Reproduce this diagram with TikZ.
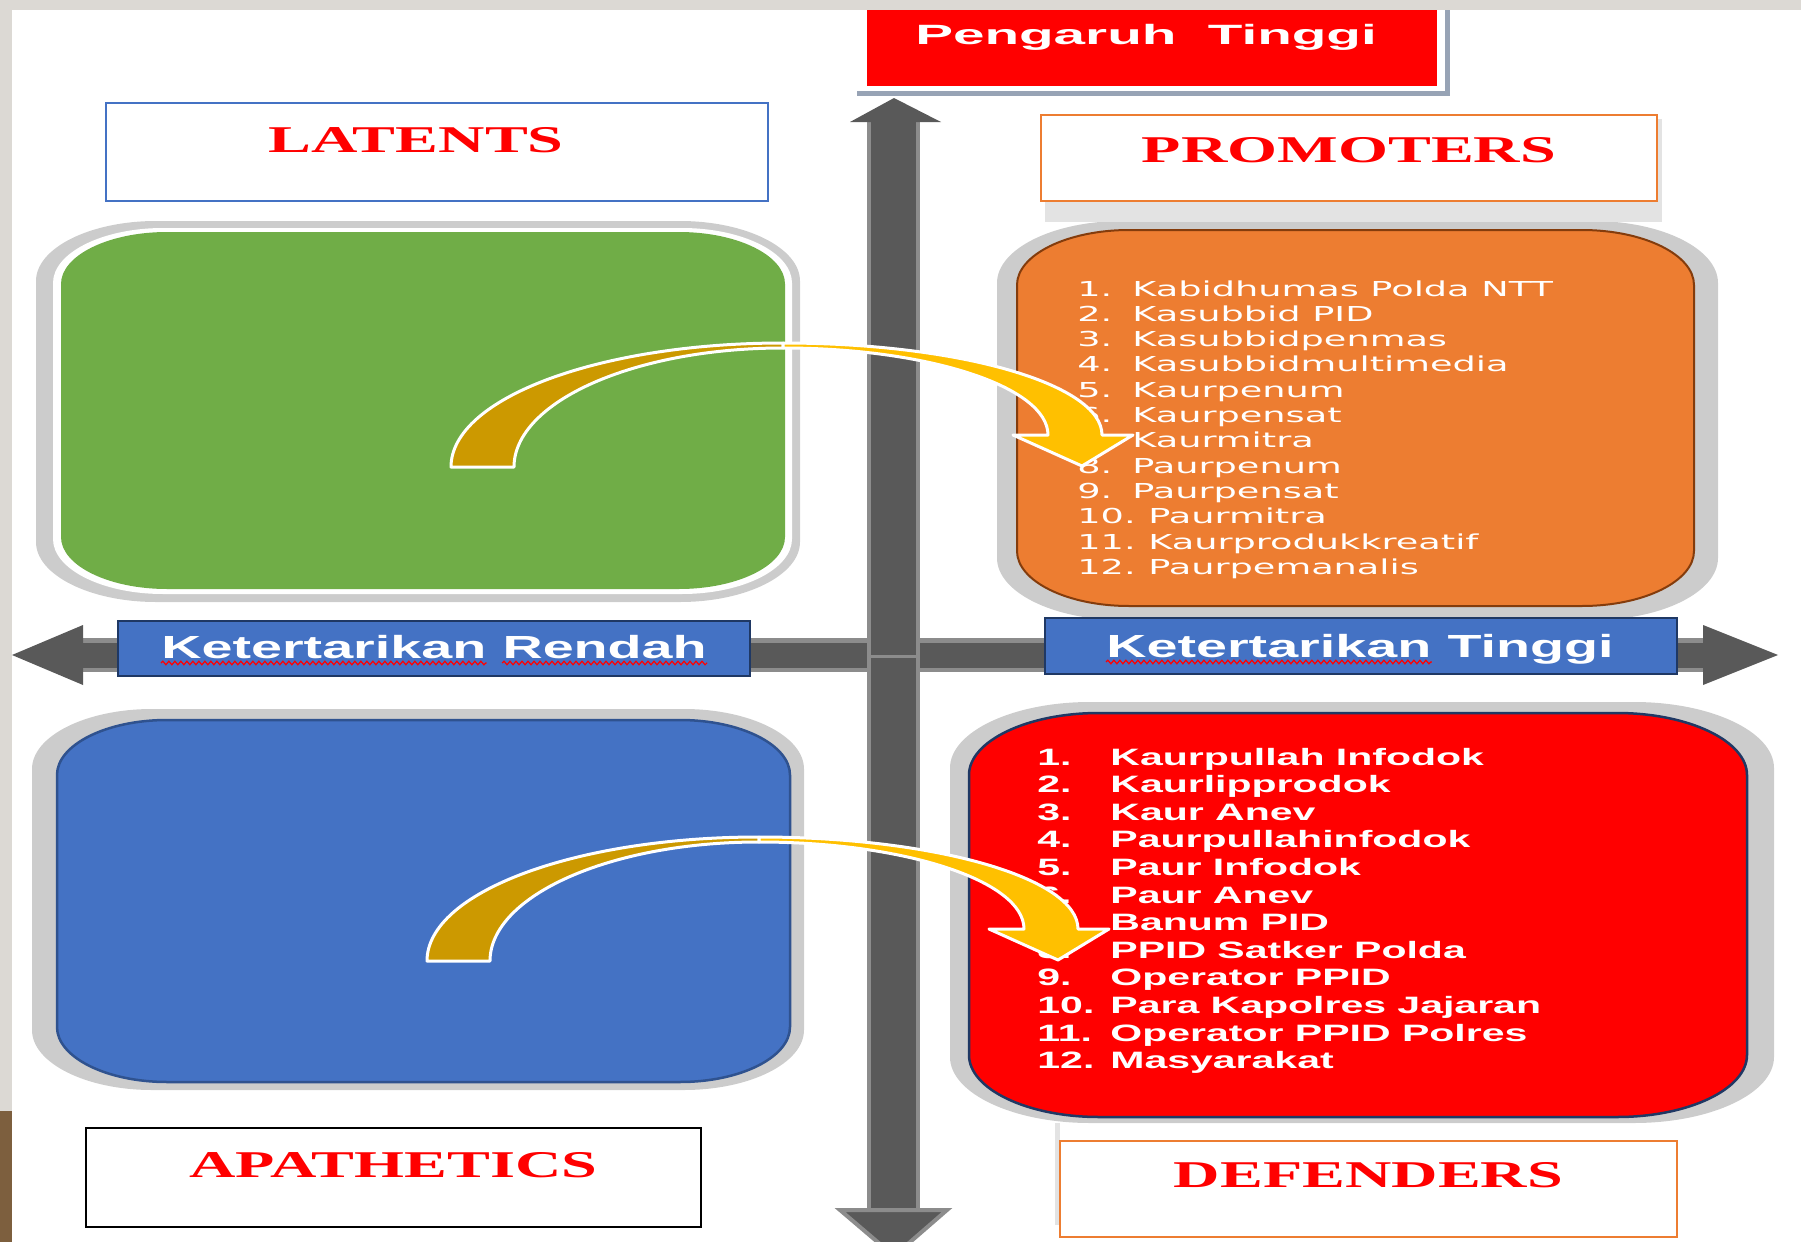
\documentclass[tikz,border=0pt]{standalone}
\usepackage{fontspec}
\usepackage{xcolor}
\usepackage{tikz}
\usetikzlibrary{positioning,decorations.pathmorphing}
\newfontfamily\tagfont{Liberation Serif}[FakeStretch=1.7]
\newfontfamily\axisfont{Liberation Sans}[FakeStretch=1.74]
\newfontfamily\topfont{Liberation Sans}[FakeStretch=2.03]
\newfontfamily\promofont{DejaVu Sans}[FakeStretch=1.78]
\newfontfamily\deffont{Liberation Sans}[FakeStretch=1.73]
\definecolor{clrGrn}{RGB}{112,173,71}
\definecolor{clrOrg}{RGB}{237,125,49}
\definecolor{clrRed}{RGB}{255,0,0}
\definecolor{clrBlu}{RGB}{68,114,196}
\definecolor{clrNavy}{RGB}{31,56,100}
\definecolor{clrBluE}{RGB}{47,82,143}
\definecolor{clrBrown}{RGB}{132,60,12}
\definecolor{clrGold}{RGB}{255,192,0}
\definecolor{clrDGold}{RGB}{204,153,0}
\definecolor{clrShaft}{RGB}{89,89,89}
\definecolor{clrShaftE}{RGB}{140,140,140}
\definecolor{clrShadow}{RGB}{204,204,204}
\definecolor{clrSlate}{RGB}{151,163,181}
\definecolor{clrFrame}{RGB}{220,217,212}
\definecolor{clrPhoto}{RGB}{125,95,62}
% rounded box with elliptic corners: x1,y1,x2,y2,rx,ry
\newcommand\softbox[6]{(#1+#5,#2) -- (#3-#5,#2)
  .. controls (#3-0.45*#5,#2) and (#3,#2+0.45*#6) .. (#3,#2+#6) -- (#3,#4-#6)
  .. controls (#3,#4-0.45*#6) and (#3-0.45*#5,#4) .. (#3-#5,#4) -- (#1+#5,#4)
  .. controls (#1+0.45*#5,#4) and (#1,#4-0.45*#6) .. (#1,#4-#6) -- (#1,#2+#6)
  .. controls (#1,#2+0.45*#6) and (#1+0.45*#5,#2) .. (#1+#5,#2) -- cycle}
\tikzset{
  tag/.style={rectangle,line width=1.25pt,fill=white,inner xsep=0pt,inner ysep=0pt,
    anchor=base,text=clrRed,font=\tagfont\bfseries\fontsize{18.9}{20}\selectfont},
  toptext/.style={anchor=base,inner sep=0pt,text=white,
    font=\topfont\bfseries\fontsize{13.95}{16}\selectfont},
  axisbox/.style={rectangle,draw=clrNavy,line width=1.25pt,fill=clrBlu,inner sep=0pt},
  axisword/.style={anchor=base west,inner sep=0pt,text=white,
    font=\axisfont\bfseries\fontsize{16}{18}\selectfont},
  spell/.style={draw=red,line width=0.6pt,decorate,
    decoration={snake,amplitude=0.9pt,segment length=3pt}},
  promoitem/.style={anchor=base west,inner sep=0pt,text=white,
    font=\promofont\fontsize{10.3}{12}\selectfont},
  defitem/.style={anchor=base west,inner sep=0pt,text=white,
    font=\deffont\bfseries\fontsize{11.85}{14}\selectfont},
  bandL/.style={fill=clrDGold,draw=white,line width=1.5pt,line join=round},
  bandR/.style={fill=clrGold,draw=white,line width=1.5pt,line join=round}
}
\begin{document}
\begin{tikzpicture}[x=0.5pt,y=-0.5pt]
  \useasboundingbox (0,0) rectangle (1801,1242);
  \clip (0,0) rectangle (1801,1242);
  \fill[clrFrame] (0,0) rectangle (1801,10);
  \fill[clrFrame] (0,0) rectangle (12,1111);
  \fill[clrPhoto] (0,1111) rectangle (12,1242);
  % quadrants
  \fill[clrShadow] \softbox{36}{221}{800}{602}{120}{60};
  \fill[white] \softbox{53}{228}{792}{594}{110}{55};
  \fill[clrGrn] \softbox{61}{232}{785}{589}{106}{52};
  \fill[clrShadow] \softbox{997}{221}{1718}{620}{125}{62};
  \draw[clrBrown,fill=clrOrg,line width=1pt] \softbox{1017}{230}{1694}{606}{112}{55};
  \fill[clrShadow] \softbox{32}{709}{804}{1090}{120}{60};
  \draw[clrBluE,fill=clrBlu,line width=1.25pt] \softbox{57}{720}{790}{1082}{110}{55};
  \fill[clrShadow] \softbox{950}{702}{1774}{1123}{140}{66};
  \draw[clrNavy,fill=clrRed,line width=1.25pt] \softbox{969}{713}{1747}{1117}{130}{62};
  % axes
  \fill[clrShaftE] (83,638) rectangle (1703,672);
  \fill[clrShaft] (83,643) rectangle (1703,668);
  \fill[clrShaft] (83,625) -- (12,655) -- (83,685) -- cycle;
  \fill[clrShaft] (1703,625) -- (1778,655) -- (1703,685) -- cycle;
  \fill[clrShaftE] (867,122) rectangle (920,1210);
  \fill[clrShaft] (871,122) rectangle (916,1210);
  \draw[clrShaftE,line width=1.5pt] (869,656) -- (918,656);
  \fill[clrShaft] (850,122) -- (894,98) -- (941,122) -- cycle;
  \filldraw[fill=clrShaft,draw=clrShaftE,line width=2pt] (840,1210) -- (894,1256) -- (947,1210) -- cycle;
  % top label
  \fill[clrSlate] (857,10) rectangle (1450,96);
  \fill[white] (857,10) rectangle (1445,91);
  \fill[clrRed] (867,10) rectangle (1437,86);
  \node[toptext] (infl) at (1146,45) {Pengaruh\ \ Tinggi};
  % quadrant tags
  \node[tag,draw=clrBlu,minimum width=331pt,text height=24.5pt,text depth=24.5pt]
    (latents) at (437,152) {LATENTS\hspace*{21pt}};
  \fill[gray!22] (1045,119) rectangle (1662,222);
  \node[tag,draw=clrOrg,minimum width=308pt,text height=23.5pt,text depth=19.5pt]
    (promoters) at (1349,162) {PROMOTERS};
  \node[tag,draw=black,minimum width=307.5pt,text height=24.5pt,text depth=25pt]
    (apathetics) at (393.5,1177) {APATHETICS};
  \fill[gray!22] (1055,1123) rectangle (1060,1225);
  \node[tag,draw=clrOrg,minimum width=308.5pt,text height=23pt,text depth=25pt]
    (defenders) at (1368.5,1187) {DEFENDERS};
  % axis labels
  \node[axisbox,minimum width=316pt,minimum height=27.5pt] (kr) at (434,648.5) {};
  \node[axisword] (krA) at (161,658) {Ketertarikan};
  \node[axisword,base right=7.7pt of krA] (krB) {Rendah};
  \node[axisbox,minimum width=316pt,minimum height=28pt] (kt) at (1361,646) {};
  \node[axisword] (ktA) at (1106,657) {Ketertarikan};
  \node[axisword,base right=7.7pt of ktA] (ktB) {Tinggi};
  \draw[spell] ([yshift=-2.5pt]krA.base west) -- ([yshift=-2.5pt]krA.base east);
  \draw[spell] ([yshift=-2.5pt]krB.base west) -- ([yshift=-2.5pt]krB.base east);
  \draw[spell] ([yshift=-2.5pt]ktA.base west) -- ([yshift=-2.5pt]ktA.base east);
  % lists
  \foreach \t [count=\i] in {Kabidhumas Polda NTT,Kasubbid PID,Kasubbidpenmas,
      Kasubbidmultimedia,Kaurpenum,Kaurpensat,Kaurmitra,Paurpenum,Paurpensat,
      Paurmitra,Kaurprodukkreatif,Paurpemanalis}{
    \ifnum\i<10 \def\tx{1132}\else\def\tx{1148}\fi
    \node[promoitem] (pn\i) at (1077,{296+(\i-1)*25.3}) {\i.};
    \node[promoitem] (p\i) at (\tx,{296+(\i-1)*25.3}) {\t};
  }
  \foreach \t [count=\i] in {Kaurpullah Infodok,Kaurlipprodok,Kaur Anev,
      Paurpullahinfodok,Paur Infodok,Paur Anev,Banum PID,PPID Satker Polda,
      Operator PPID,Para Kapolres Jajaran,Operator PPID Polres,Masyarakat}{
    \node[defitem] (dn\i) at (1037,{765+(\i-1)*27.6}) {\i.};
    \node[defitem] (d\i) at (1110,{765+(\i-1)*27.6}) {\t};
  }
  % curved arrows
  \foreach \dx/\dy in {0/0,-24/494}{
    \begin{scope}[shift={(\dx,\dy)}]
      \filldraw[bandL] (451,467) .. controls (451,398) and (600,343) .. (783,343)
        -- (783,348) .. controls (634,348) and (514,402) .. (514,467) -- cycle;
      \filldraw[bandR] (783,343) .. controls (959,343) and (1102,384) .. (1102,435)
        -- (1133,435) -- (1082,466) -- (1013,435) -- (1048,435)
        .. controls (1048,387) and (929,348) .. (783,348) -- cycle;
    \end{scope}
  }
\end{tikzpicture}
\end{document}
